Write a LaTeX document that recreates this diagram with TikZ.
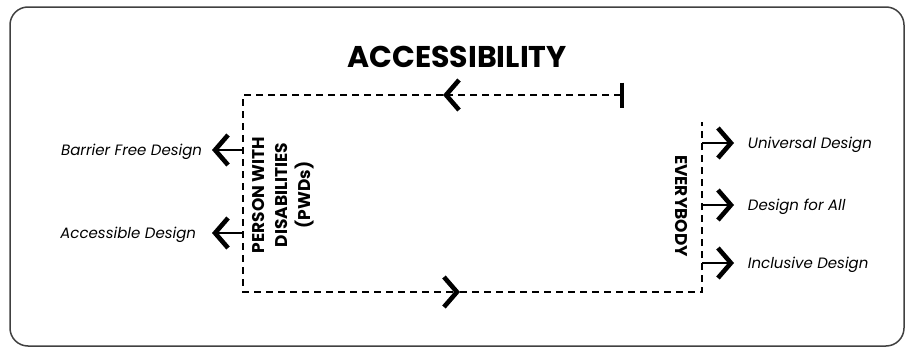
\documentclass[tikz,border=0pt]{standalone}
\usepackage{fontspec}
\setmainfont{Poppins}
\usetikzlibrary{arrows.meta}

\begin{document}
\begin{tikzpicture}[x=1pt, y=-1pt, line width=1.8pt,
  chev/.tip={Straight Barb[length=13pt, width=30pt, line width=4.6pt]},
  dashline/.style={dash pattern=on 7pt off 5pt},
  branch/.style={-chev, line width=1.5pt},
  sidelabel/.style={font=\fontsize{15}{18}\selectfont\itshape, inner sep=3pt},
  grouplabel/.style={font=\fontsize{17}{23}\selectfont\bfseries, align=center, inner sep=0pt}]
  \useasboundingbox (0,0) rectangle (906,348);
  \draw[line width=1.5pt, black!75, rounded corners=18pt] (10,7) rectangle (904,346);

  \node[inner sep=0pt] (title) at (457,57) {\fontsize{30}{30}\selectfont\bfseries ACCESSIBILITY};
  \node[grouplabel, rotate=90] (pwd) at (283,195) {PERSON WITH\\DISABILITIES\\(PWDs)};
  \node[grouplabel, rotate=-90] (every) at (681,206) {EVERYBODY};

  % the loop
  \coordinate (tick) at (624,95);
  \coordinate (topmid) at (443,95);
  \coordinate (topleft) at (243,95);
  \coordinate (botleft) at (243,292);
  \coordinate (botmid) at (460,292);
  \coordinate (botright) at (702,292);
  \coordinate (righttop) at (702,122);
  \draw[dashline, {Bar[width=25pt, line width=4pt]}-chev] (tick) -- (topmid);
  \draw[dashline, -chev] (topmid) -- (topleft) -- (botleft) -- (botmid);
  \draw[dashline] (botmid) -- (botright) -- (righttop);

  % left side
  \node[sidelabel, anchor=base east] (barrier) at (206,155.5) {Barrier Free Design};
  \node[sidelabel, anchor=base east] (access) at (200,238.5) {Accessible Design};
  \coordinate (l1) at (243,150);
  \coordinate (l2) at (243,233);
  \draw[branch, shorten >=6pt] (l1) -- (l1 -| barrier.east);
  \draw[branch, shorten >=12pt] (l2) -- (l2 -| access.east);

  % right side
  \node[sidelabel, anchor=base west] (universal) at (744,148.5) {Universal Design};
  \node[sidelabel, anchor=base west] (forall) at (744,210.5) {Design for All};
  \node[sidelabel, anchor=base west] (inclusive) at (744,268.5) {Inclusive Design};
  \coordinate (r1) at (702,143);
  \coordinate (r2) at (702,205);
  \coordinate (r3) at (702,263);
  \draw[branch, shorten >=10pt] (r1) -- (r1 -| universal.west);
  \draw[branch, shorten >=10pt] (r2) -- (r2 -| forall.west);
  \draw[branch, shorten >=10pt] (r3) -- (r3 -| inclusive.west);
\end{tikzpicture}
\end{document}
